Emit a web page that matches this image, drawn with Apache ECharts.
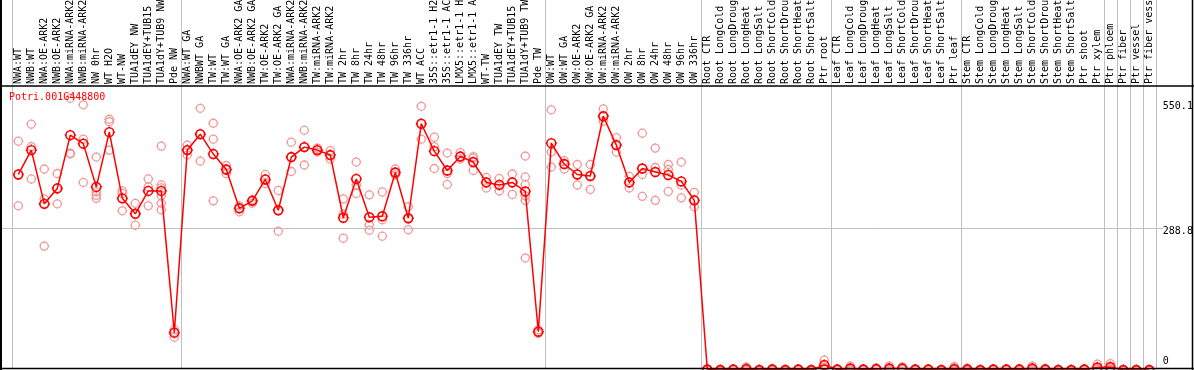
<!DOCTYPE html>
<html>
<head>
<meta charset="utf-8">
<script src="https://cdn.jsdelivr.net/npm/echarts@6/dist/echarts.min.js"></script>
<style>
html,body{margin:0;padding:0;background:#fff;}
#chart{width:1194px;height:370px;}
</style>
</head>
<body>
<div id="chart"></div>
<script>
const geneId = 'Potri.001G448800';

const categories = [
  'NWA:WT','NWB:WT','NWA:OE-ARK2','NWB:OE-ARK2','NWA:miRNA-ARK2','NWB:miRNA-ARK2','NW 0hr','WT H2O','WT-NW',
  'TUA1dEY NW','TUA1dEY+TUB15 NW','TUA1dY+TUB9 NW','Pde NW',
  'NWA:WT GA','NWBWT GA','TW:WT','TW:WT GA','NWA:OE-ARK2 GA','NWB:OE-ARK2 GA','TW:OE-ARK2','TW:OE-ARK2 GA',
  'NWA:miRNA-ARK2','NWB:miRNA-ARK2','TW:miRNA-ARK2','TW:miRNA-ARK2','TW 2hr','TW 8hr','TW 24hr','TW 48hr','TW 96hr','TW 336hr',
  'WT ACC','35S::etr1-1 H2O','35S::etr1-1 ACC','LMX5::etr1-1 H2O','LMX5::etr1-1 ACC','WT-TW','TUA1dEY TW','TUA1dEY+TUB15 TW','TUA1dY+TUB9 TW','Pde TW',
  'OW:WT','OW:WT GA','OW:OE-ARK2','OW:OE-ARK2 GA','OW:miRNA-ARK2','OW:miRNA-ARK2','OW 2hr','OW 8hr','OW 24hr','OW 48hr','OW 96hr','OW 336hr',
  'Root CTR','Root LongCold','Root LongDrought','Root LongHeat','Root LongSalt','Root ShortCold','Root ShortDrought','Root ShortHeat','Root ShortSalt','Ptr root',
  'Leaf CTR','Leaf LongCold','Leaf LongDrought','Leaf LongHeat','Leaf LongSalt','Leaf ShortCold','Leaf ShortDrought','Leaf ShortHeat','Leaf ShortSalt','Ptr leaf',
  'Stem CTR','Stem LongCold','Stem LongDrought','Stem LongHeat','Stem LongSalt','Stem ShortCold','Stem ShortDrought','Stem ShortHeat','Stem ShortSalt','Ptr shoot',
  'Ptr xylem','Ptr phloem','Ptr fiber','Ptr vessel','Ptr fiber vessel'
];

// number of consecutive categories in each separated block
const groupSizes = [13, 28, 12, 10, 10, 11, 1, 1, 1, 1];

const meanValues = [
  397,446,338,369,476,459,372,482,349,318,364,364,79,
  446,478,438,407,329,344,387,325,432,452,446,436,310,388,311,313,401,309,499,444,405,433,422,381,376,381,363,81,
  460,418,397,394,514,456,381,409,402,396,383,345,
  5,4,5,6,4,5,4,5,4,14,
  5,7,5,6,7,7,5,5,4,6,
  5,4,5,5,5,7,5,4,4,5,
  9,10,4,4,4
];

const replicateValues = [
  [464,334,397],[498,453,388],[408,348,253],[399,370,338],[550.1,438,440],[537,468,381],[432,362,355,349],
  [508,503,446],[364,359,324],[339,295,318],[388,372,334],[454,376,370,354,339,326],[85,70,80],
  [456,446,436],[530,478,424],[500,468,344],[415,407,399],[334,329,322],[346,344,339],[397,387,379],[365,325,283],
  [462,432,403],[486,452,416],[450,446,442],[445,436,428],[348,317,269],[422,376,359],[356,296,285],[362,306,273],
  [408,401,396],[332,309,286],[534,499,468],[472,453,409],[440,399,377],[441,433,428],[433,430,405],[391,381,370],
  [389,376,364],[398,381,357],[434,392,377,354,345,229],[85,78,81],
  [527,442,412],[425,418,408],[417,397,376],[417,394,367],[529,514,504],[471,456,442],[393,381,370],[480,397,353],
  [450,411,345],[417,407,363],[422,376,350],[361,345,332],
  [4,6,5],[3,5,4],[6,4,5],[10,4,5],[5,3,4],[7,4,4],[4,5,3],[6,5,4],[4,3,5],[24,8,10],
  [6,4,5],[12,5,4],[6,5,4],[8,5,5],[12,5,4],[10,6,5],[6,4,5],[6,5,4],[5,4,3],[11,4,3],
  [8,4,3],[5,4,3],[6,4,5],[6,5,4],[7,4,4],[12,5,4],[7,4,4],[5,4,3],[5,3,4],[6,4,5],
  [16,6,5],[17,7,6],[5,3],[5,3],[5,3]
];

const yTickLabels = [0, 288.8, 550.1];

const FONT = 'DejaVu Sans Mono';
const markerPath = 'path://M10,0V2M10,18V20M0,10H2M18,10H20M2,10A8,8 0 1 1 18,10A8,8 0 1 1 2,10Z';

const chart = echarts.init(document.getElementById('chart'), null, {renderer: 'canvas'});

const replicatePoints = [];
replicateValues.forEach((arr, i) => arr.forEach(v => replicatePoints.push([i, v])));

const option = {
  animation: false,
  backgroundColor: '#ffffff',
  title: {
    text: geneId,
    left: 9, top: 92, padding: 0,
    textStyle: {fontFamily: FONT, fontSize: 10, fontWeight: 'normal', color: '#ff0000'}
  },
  grid: {left: 11.8, right: 38.2, top: 98.3, bottom: -2, containLabel: false, outerBoundsMode: 'none'},
  xAxis: {
    type: 'category',
    data: categories,
    position: 'top',
    offset: 12.3,
    boundaryGap: true,
    axisLine: {show: false, onZero: false},
    axisTick: {show: false},
    splitLine: {show: false},
    axisLabel: {
      interval: 0, rotate: -90, margin: 2,
      fontFamily: FONT, fontSize: 10, color: '#000'
    }
  },
  yAxis: {
    type: 'value',
    position: 'right',
    min: yTickLabels[0],
    max: yTickLabels[2],
    interval: yTickLabels[1],
    axisLine: {show: false},
    axisTick: {show: false},
    splitLine: {show: false},
    axisLabel: {
      margin: 7,
      fontFamily: FONT, fontSize: 10, color: '#000',
      align: 'left',
      formatter: function (v) {
        if (Math.abs(v - yTickLabels[2]) < 1e-6) return '{t|' + yTickLabels[2] + '}';
        if (Math.abs(v - yTickLabels[1]) < 1e-6) return '{m|' + yTickLabels[1] + '}';
        return '{z|' + yTickLabels[0] + '}';
      },
      rich: {
        t: {fontFamily: FONT, fontSize: 10, color: '#000', padding: [17, 0, 0, 0]},
        m: {fontFamily: FONT, fontSize: 10, color: '#000', padding: [7, 0, 0, 0]},
        z: {fontFamily: FONT, fontSize: 10, color: '#000', padding: [0, 0, 21, 0]}
      }
    }
  },
  series: [
    {
      type: 'scatter',
      data: replicatePoints,
      symbol: markerPath,
      symbolSize: 10,
      z: 2,
      itemStyle: {color: 'rgba(0,0,0,0)', borderColor: '#f09a9a', borderWidth: 1.3, opacity: 1}
    },
    {
      type: 'line',
      data: meanValues,
      symbol: markerPath,
      symbolSize: 11,
      showAllSymbol: true,
      z: 3,
      lineStyle: {color: '#ff0000', width: 1.5},
      itemStyle: {color: 'rgba(0,0,0,0)', borderColor: '#ff0000', borderWidth: 1.6}
    }
  ]
};

chart.setOption(option);

// decorative frame & separators, positioned from the axes
const c0 = chart.convertToPixel({xAxisIndex: 0}, 0);
const c1 = chart.convertToPixel({xAxisIndex: 0}, 1);
const band = c1 - c0;
const yMid = chart.convertToPixel({yAxisIndex: 0}, yTickLabels[1]);
const W = 1194, H = 370;
const graphics = [];
let idx = 0;
const boundaries = [0];
groupSizes.forEach(s => { idx += s; boundaries.push(idx); });
boundaries.forEach(b => {
  const x = Math.round(c0 + band * (b - 0.5)) + 0.5;
  graphics.push({type: 'line', z: 0, silent: true,
    shape: {x1: x, y1: 0, x2: x, y2: H - 1.5},
    style: {stroke: '#c0c0c0', lineWidth: 1}});
});
graphics.push({type: 'line', z: 0, silent: true,
  shape: {x1: 1, y1: Math.round(yMid) + 0.5, x2: 1163, y2: Math.round(yMid) + 0.5},
  style: {stroke: '#c0c0c0', lineWidth: 1}});
// black frame
graphics.push({type: 'line', z: 50, silent: true, shape: {x1: 0, y1: 86, x2: W, y2: 86}, style: {stroke: '#000', lineWidth: 1.5}});
graphics.push({type: 'line', z: 50, silent: true, shape: {x1: 1, y1: 0, x2: 1, y2: H}, style: {stroke: '#000', lineWidth: 2}});
graphics.push({type: 'line', z: 50, silent: true, shape: {x1: W - 1.5, y1: 0, x2: W - 1.5, y2: H}, style: {stroke: '#000', lineWidth: 1.5}});
graphics.push({type: 'line', z: 50, silent: true, shape: {x1: 0, y1: H - 1.5, x2: W, y2: H - 1.5}, style: {stroke: '#000', lineWidth: 1.5}});
chart.setOption({graphic: graphics});
</script>
</body>
</html>
